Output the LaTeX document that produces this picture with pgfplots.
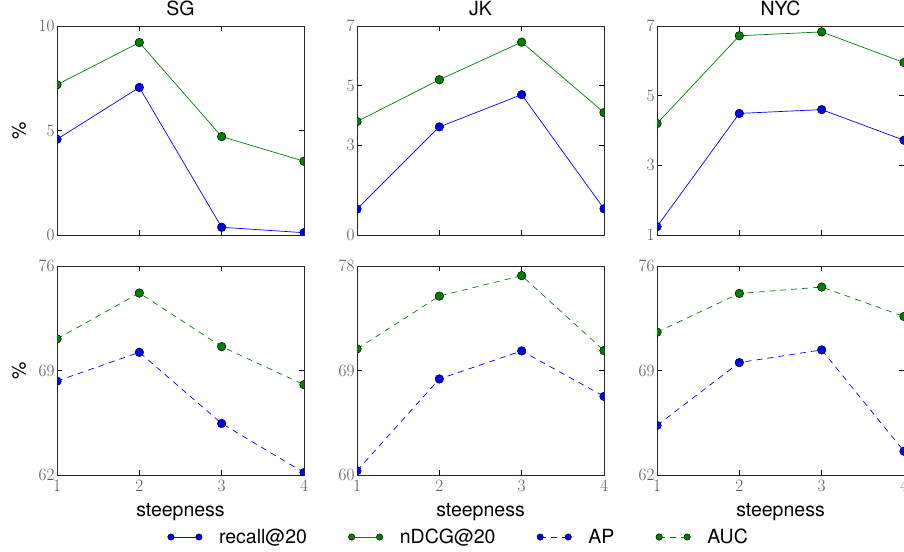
\documentclass[border=0pt]{standalone}
\usepackage{pgfplots}
\pgfplotsset{compat=1.18}
\usepackage{fontspec}
\setmainfont{TeX Gyre Heros}

\definecolor{mplblue}{rgb}{0,0,1}
\definecolor{mplgreen}{rgb}{0,0.5,0}

\pgfplotsset{
  panel/.style={
    width=247pt, height=209pt, scale only axis,
    anchor=south west,
    xmin=1, xmax=4, xtick={1,2,3,4},
    tick align=inside, xtick pos=both, ytick pos=both,
    major tick length=5pt,
    tick style={black, line width=0.6pt},
    axis line style={line width=0.8pt, black!85},
    tick label style={font=\fontsize{18}{21}\selectfont, text=black!65},
    yticklabel style={xshift=1pt},
    xticklabel style={yshift=-2pt},
    label style={font=\fontsize{19.5}{23}\selectfont},
    title style={font=\fontsize{19.5}{23}\selectfont, at={(axis description cs:0.5,1.0555)}, anchor=center},
    xlabel style={at={(axis description cs:0.5,-0.176)}, anchor=center},
    ylabel style={at={(axis description cs:-0.154,0.5)}, anchor=center, rotate=0},
    clip marker paths=true,
  },
  toprow/.style={panel, xticklabels={}},
  botrow/.style={panel, xlabel={steepness}},
  recall/.style={mplblue, line width=0.7pt, mark=*, mark size=4.3pt,
    mark options={solid, fill=mplblue, draw=black, line width=0.5pt}},
  ndcg/.style={mplgreen, line width=0.7pt, mark=*, mark size=4.3pt,
    mark options={solid, fill=mplgreen, draw=black, line width=0.5pt}},
  ap/.style={recall, dash pattern=on 6pt off 5pt},
  auc/.style={ndcg, dash pattern=on 6pt off 5pt},
}

\begin{document}
\begin{tikzpicture}
\path[use as bounding box] (0pt,0pt) rectangle (904pt,551pt);

% ---------- top row: recall@20 and nDCG@20 ----------
\begin{axis}[toprow, at={(57pt,316pt)}, title={SG}, ylabel={\%},
  ymin=0, ymax=10, ytick={0,5,10}]
  \addplot[recall] coordinates {(1,4.58) (2,7.06) (3,0.37) (4,0.11)};
  \addplot[ndcg]   coordinates {(1,7.19) (2,9.21) (3,4.71) (4,3.53)};
\end{axis}

\begin{axis}[toprow, at={(357pt,316pt)}, title={JK},
  ymin=0, ymax=7, ytick={0,3,5,7}]
  \addplot[recall] coordinates {(1,0.87) (2,3.62) (3,4.70) (4,0.88)};
  \addplot[ndcg]   coordinates {(1,3.80) (2,5.20) (3,6.46) (4,4.10)};
\end{axis}

\begin{axis}[toprow, at={(657pt,316pt)}, title={NYC},
  ymin=1, ymax=7, ytick={1,3,5,7}]
  \addplot[recall] coordinates {(1,1.24) (2,4.49) (3,4.60) (4,3.72)};
  \addplot[ndcg]   coordinates {(1,4.20) (2,6.72) (3,6.83) (4,5.95)};
\end{axis}

% ---------- bottom row: AP and AUC ----------
\begin{axis}[botrow, at={(57pt,76pt)}, ylabel={\%},
  ymin=62, ymax=76, ytick={62,69,76},
  legend columns=4,
  legend style={draw=none, fill=none, at={(axis description cs:0.4474,-0.2967)}, anchor=west,
    font=\fontsize{19.5}{23}\selectfont, inner sep=0pt,
    nodes={inner sep=0pt, text depth=0.15em},
    /tikz/every odd column/.append style={column sep=17pt},
    /tikz/every even column/.append style={column sep=41.5pt}},
  legend image code/.code={%
    \draw[#1, mark size=3.2pt] plot coordinates {(0pt,0pt) (28pt,0pt)};}]
  \addlegendimage{recall}
  \addlegendentry{recall@20}
  \addlegendimage{ndcg}
  \addlegendentry{nDCG@20}
  \addlegendimage{ap}
  \addlegendentry{AP}
  \addlegendimage{auc}
  \addlegendentry{AUC}
  \addplot[ap, forget plot]  coordinates {(1,68.29) (2,70.22) (3,65.45) (4,62.16)};
  \addplot[auc, forget plot] coordinates {(1,71.12) (2,74.19) (3,70.60) (4,68.05)};
\end{axis}

\begin{axis}[botrow, at={(357pt,76pt)},
  ymin=60, ymax=78, ytick={60,69,78}]
  \addplot[ap]  coordinates {(1,60.37) (2,68.27) (3,70.69) (4,66.77)};
  \addplot[auc] coordinates {(1,70.86) (2,75.41) (3,77.17) (4,70.71)};
\end{axis}

\begin{axis}[botrow, at={(657pt,76pt)},
  ymin=62, ymax=76, ytick={62,69,76}]
  \addplot[ap]  coordinates {(1,65.32) (2,69.53) (3,70.38) (4,63.59)};
  \addplot[auc] coordinates {(1,71.57) (2,74.16) (3,74.59) (4,72.62)};
\end{axis}
\end{tikzpicture}
\end{document}
